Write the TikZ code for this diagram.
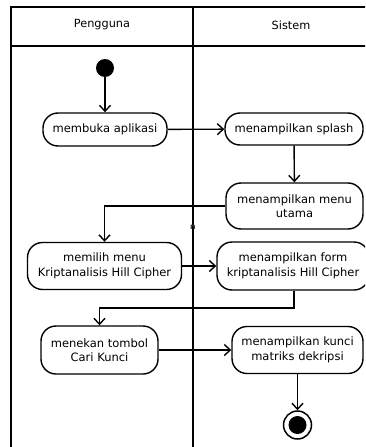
\documentclass[tikz,border=0pt]{standalone}
\usepackage{fontspec}
\setmainfont{DejaVu Sans}
\usetikzlibrary{arrows.meta}
\begin{document}
\begin{tikzpicture}[x=1pt,y=-1pt,
  lane/.style={line width=1.8pt},
  act/.style={draw, line width=1.4pt, rounded corners=15pt, inner sep=0pt,
    align=center, font=\fontsize{11.5}{14.5}\selectfont},
  flow/.style={line width=1.4pt, -{Straight Barb[length=6pt,width=11pt,line width=1.4pt]}},
  lanetitle/.style={font=\fontsize{11.3}{14}\selectfont}
]
\clip (0,0) rectangle (365,447);
\fill[white] (0,0) rectangle (365,447);

% swimlane frame
\draw[lane] (11,460) -- (11,7) -- (390,7);
\draw[lane] (11,46) -- (390,46);
\draw[lane] (193,7) -- (193,460);
\node[lanetitle] (lane1) at (102,25) {Pengguna};
\node[lanetitle] (lane2) at (291,25) {Sistem};

% start and end markers
\node[circle, fill=black, minimum size=18pt, inner sep=0pt] (start) at (105,68) {};
\node[circle, draw, line width=1.5pt, minimum size=28pt, inner sep=0pt] (stop) at (297.5,425) {};
\node[circle, fill=black, minimum size=18pt, inner sep=0pt] (stopdot) at (stop.center) {};

% activities
\node[act, minimum width=124pt, minimum height=33pt] (buka) at (105,129.5) {membuka aplikasi};
\node[act, minimum width=138pt, minimum height=32pt] (splash) at (294,129) {menampilkan splash};
\node[act, minimum width=137pt, minimum height=46pt] (utama) at (294.5,206) {menampilkan menu\\utama};
\node[act, minimum width=154pt, minimum height=47pt] (pilih) at (104.5,266) {memilih menu\\Kriptanalisis Hill Cipher};
\node[act, minimum width=152pt, minimum height=48pt] (form) at (293,266) {menampilkan form\\kriptanalisis Hill Cipher};
\node[act, minimum width=117pt, minimum height=48pt] (tekan) at (99.5,350) {menekan tombol\\Cari Kunci};
\node[act, minimum width=131pt, minimum height=47pt] (kunci) at (297.5,350) {menampilkan kunci\\matriks dekripsi};

% guard label on the lane divider
\node[font=\fontsize{8}{9}\selectfont\bfseries, text=black!75, inner sep=0pt] (guard) at (193,227.5) {n};

% control flow
\coordinate (elbow) at (99.5,308);
\draw[flow] (start) -- (buka);
\draw[flow] (buka) -- (splash);
\draw[flow] (splash) -- (utama);
\draw[flow] (utama.west) -| (pilih.north);
\draw[flow] (pilih) -- (form);
\draw[flow] ([xshift=1pt]form.south) |- (elbow) -- (tekan.north);
\draw[flow] (tekan) -- (kunci);
\draw[flow] (kunci) -- (stop);
\end{tikzpicture}
\end{document}
